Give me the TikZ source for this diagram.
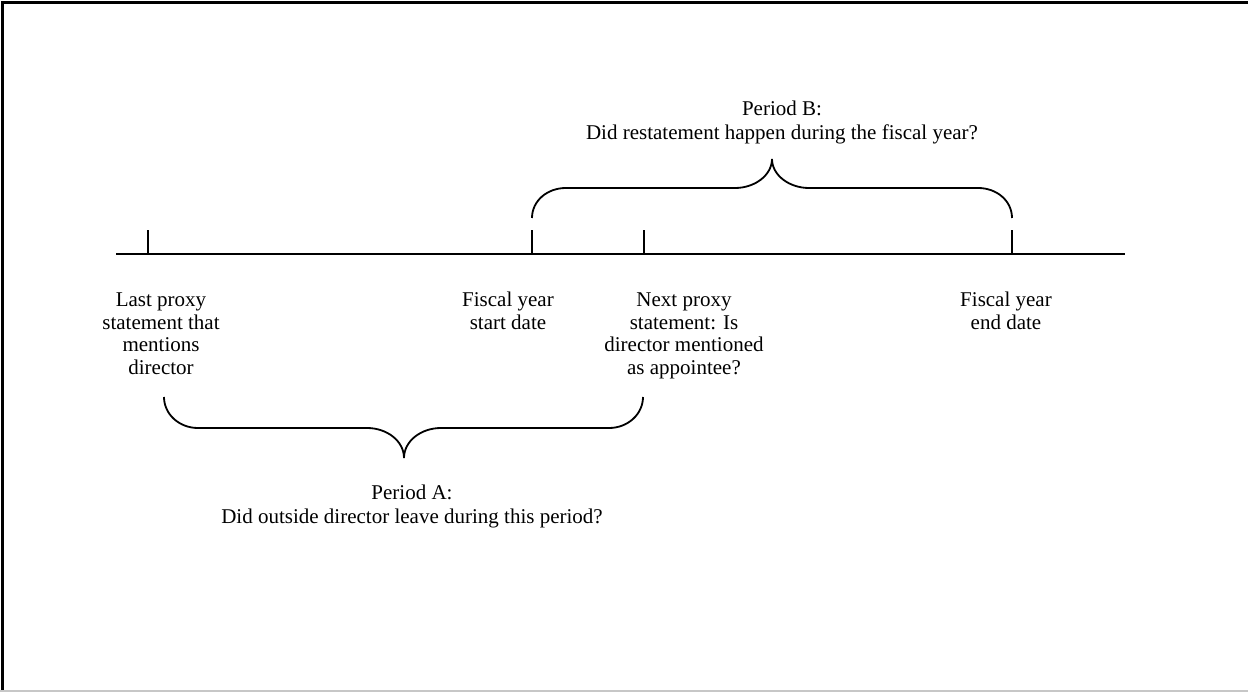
\documentclass[tikz,border=0pt]{standalone}
\usepackage{fontspec}
\setmainfont{Liberation Serif}
\begin{document}
\begin{tikzpicture}[x=1pt,y=-1pt,
  axis/.style={line width=1.8pt},
  tick/.style={line width=1.8pt},
  bracepath/.style={line width=1.8pt},
  lbl/.style={align=center,inner sep=0pt,anchor=base,font=\fontsize{21}{22.5}\selectfont},
  plbl/.style={align=center,inner sep=0pt,anchor=base,font=\fontsize{21}{24}\selectfont}]
\useasboundingbox (0,0) rectangle (1248,692);
\fill[white] (0,0) rectangle (1248,692);
% frame
\draw[line width=2.5pt] (2.5,692) -- (2.5,2.5) -- (1248,2.5);
\draw[line width=1.5pt,black!22] (0,691) -- (1248,691);
% time line
\coordinate (L) at (116,254);
\coordinate (R) at (1125,254);
\draw[axis] (L) -- (R);
\foreach \n/\x in {t1/148,t2/532,t3/644,t4/1012}{
  \coordinate (\n) at (\x,254);
  \coordinate (\n top) at (\x,230);
  \draw[tick] (\n) -- (\n top);
}
% brace B
\coordinate (bB1) at (532,218);
\coordinate (bB2) at (1012,218);
\coordinate (bBtip) at (772,159);
\draw[bracepath] (bB1) .. controls (532,201) and (547,188) .. (566,188)
  -- (735,188) .. controls (755,188) and (772,175) .. (bBtip)
  .. controls (772,175) and (789,188) .. (809,188)
  -- (978,188) .. controls (997,188) and (1012,201) .. (bB2);
% brace A
\coordinate (bA1) at (164,397);
\coordinate (bA2) at (643,397);
\coordinate (bAtip) at (404,458);
\draw[bracepath] (bA1) .. controls (164,414) and (179,428) .. (198,428)
  -- (367,428) .. controls (387,428) and (404,441) .. (bAtip)
  .. controls (404,441) and (421,428) .. (441,428)
  -- (609,428) .. controls (628,428) and (643,414) .. (bA2);
% labels (anchor base = baseline of the last line)
\node[lbl] (n1) at (161,374.5) {Last proxy\\statement that\\mentions\\director};
\node[lbl] (n2) at (508,329.5) {Fiscal year\\start date};
\node[lbl] (n3) at (684,374.5) {Next proxy\\statement: Is\\director mentioned\\as appointee?};
\node[lbl] (n4) at (1006,329.5) {Fiscal year\\end date};
\node[plbl] (pB) at (782,140) {Period B:\\Did restatement happen during the fiscal year?};
\node[plbl] (pA) at (412,523) {Period A:\\Did outside director leave during this period?};
\end{tikzpicture}
\end{document}
